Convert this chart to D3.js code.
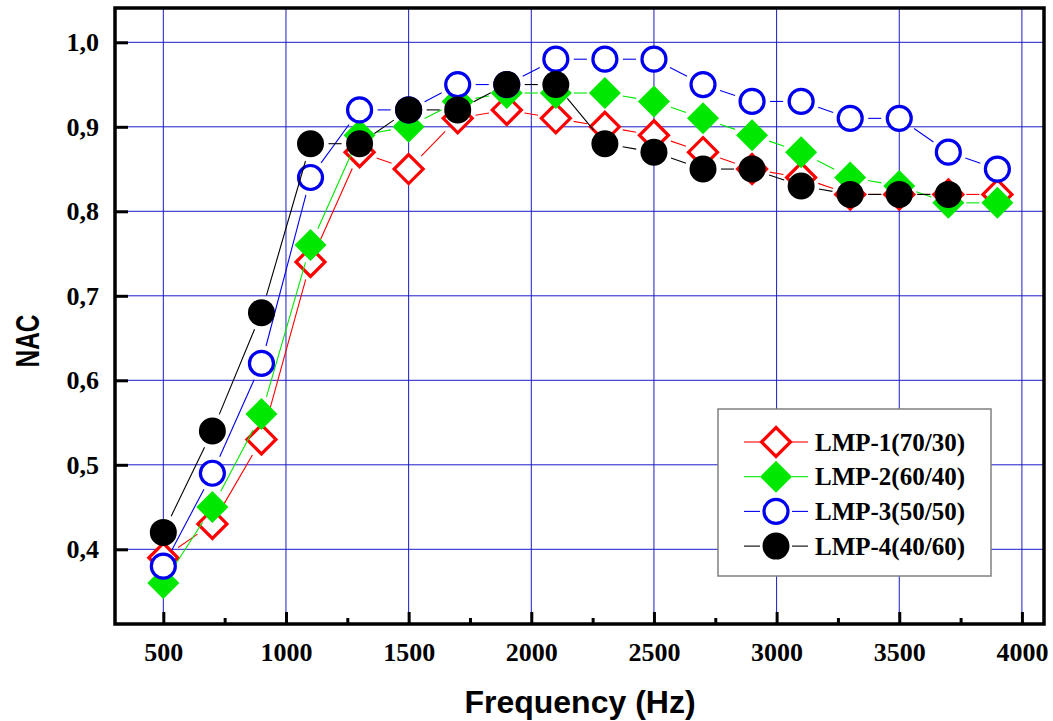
<!DOCTYPE html>
<html>
<head>
<meta charset="utf-8">
<script src="https://cdn.jsdelivr.net/npm/d3@7"></script>
<style>
  body { margin: 0; background: #fff; }
  svg { display: block; }
</style>
</head>
<body>
<script>
var freq = [500, 700, 900, 1100, 1300, 1500, 1700, 1900, 2100, 2300, 2500, 2700, 2900, 3100, 3300, 3500, 3700, 3900];
var lmp1 = [0.39, 0.43, 0.53, 0.74, 0.87, 0.85, 0.91, 0.92, 0.91, 0.90, 0.89, 0.87, 0.85, 0.84, 0.82, 0.82, 0.82, 0.82];
var lmp2 = [0.36, 0.45, 0.56, 0.76, 0.89, 0.90, 0.93, 0.94, 0.94, 0.94, 0.93, 0.91, 0.89, 0.87, 0.84, 0.83, 0.81, 0.81];
var lmp3 = [0.38, 0.49, 0.62, 0.84, 0.92, 0.92, 0.95, 0.95, 0.98, 0.98, 0.98, 0.95, 0.93, 0.93, 0.91, 0.91, 0.87, 0.85];
var lmp4 = [0.42, 0.54, 0.68, 0.88, 0.88, 0.92, 0.92, 0.95, 0.95, 0.88, 0.87, 0.85, 0.85, 0.83, 0.82, 0.82, 0.82];
var names = ["LMP-1(70/30)", "LMP-2(60/40)", "LMP-3(50/50)", "LMP-4(40/60)"];
var xTicks = [500, 1000, 1500, 2000, 2500, 3000, 3500, 4000];
var xMinor = [750, 1250, 1750, 2250, 2750, 3250, 3750];
var yTicks = [0.4, 0.5, 0.6, 0.7, 0.8, 0.9, 1.0];

var series = [
    { name: names[0], values: lmp1, color: "#ff0000", shape: "diamond", filled: false },
    { name: names[1], values: lmp2, color: "#00e800", shape: "diamond", filled: true },
    { name: names[2], values: lmp3, color: "#0000ee", shape: "circle", filled: false },
    { name: names[3], values: lmp4, color: "#000000", shape: "circle", filled: true }
];

var W = 1053, H = 721;
var pLeft = 115, pRight = 1044, pTop = 8, pBottom = 624;

var svg = d3.select('body')
    .append("svg")
    .attr('width', W)
    .attr('height', H);

var x = d3.scaleLinear().domain([303, 4090]).range([pLeft, pRight]);
var y = d3.scaleLinear().domain([0.3116, 1.0406]).range([pBottom, pTop]);

var gridColor = "#1a1ac8";
var serif = "'Liberation Serif', 'Times New Roman', serif";

// grid
svg.append("g").selectAll("line")
    .data(xTicks).enter().append("line")
    .attr("x1", d => x(d)).attr("x2", d => x(d))
    .attr("y1", pTop).attr("y2", pBottom)
    .style("stroke", gridColor).style("stroke-width", 1);

svg.append("g").selectAll("line")
    .data(yTicks).enter().append("line")
    .attr("x1", pLeft).attr("x2", pRight)
    .attr("y1", d => y(d)).attr("y2", d => y(d))
    .style("stroke", gridColor).style("stroke-width", 1);

// axes (ticks pointing inward)
var xAxis = d3.axisBottom(x).tickValues(xTicks).tickSize(-12).tickFormat(d3.format("d")).tickPadding(19);
var gx = svg.append("g").attr("transform", "translate(0," + pBottom + ")").call(xAxis);
gx.select(".domain").remove();
gx.selectAll(".tick line").style("stroke", "#000").style("stroke-width", 3);
gx.selectAll(".tick text")
    .style("font-family", serif)
    .style("font-weight", "bold")
    .style("font-size", "26px")
    .style("fill", "#000");

var xMinorAxis = d3.axisBottom(x).tickValues(xMinor).tickSize(-6).tickFormat("");
var gxm = svg.append("g").attr("transform", "translate(0," + pBottom + ")").call(xMinorAxis);
gxm.select(".domain").remove();
gxm.selectAll(".tick line").style("stroke", "#000").style("stroke-width", 3);

var yAxis = d3.axisLeft(y).tickValues(yTicks).tickSize(-13)
    .tickFormat(d => d3.format(".1f")(d).replace(".", ",")).tickPadding(16);
var gy = svg.append("g").attr("transform", "translate(" + pLeft + ",0)").call(yAxis);
gy.select(".domain").remove();
gy.selectAll(".tick line").style("stroke", "#000").style("stroke-width", 3);
gy.selectAll(".tick text")
    .style("font-family", serif)
    .style("font-weight", "bold")
    .style("font-size", "26px")
    .style("fill", "#000");

// frame
svg.append("rect")
    .attr("x", pLeft).attr("y", pTop)
    .attr("width", pRight - pLeft).attr("height", pBottom - pTop)
    .style("fill", "none").style("stroke", "#000").style("stroke-width", 3.5);

// markers
function drawMarker(g, s, cx, cy) {
    if (s.shape === "diamond") {
        var r = s.filled ? 16 : 14.5;
        g.append("path")
            .attr("d", "M" + cx + "," + (cy - r) + "L" + (cx + r) + "," + cy + "L" + cx + "," + (cy + r) + "L" + (cx - r) + "," + cy + "Z")
            .style("fill", s.filled ? s.color : "#fff")
            .style("stroke", s.color)
            .style("stroke-width", s.filled ? 0 : 3.2);
    } else {
        g.append("circle")
            .attr("cx", cx).attr("cy", cy)
            .attr("r", s.filled ? 13.5 : 12)
            .style("fill", s.filled ? s.color : "#fff")
            .style("stroke", s.color)
            .style("stroke-width", s.filled ? 0 : 3.2);
    }
}

// line with gaps at markers, Origin style
function gapSegment(g, color, x0, y0, x1, y1, gap) {
    var dx = x1 - x0, dy = y1 - y0;
    var len = Math.sqrt(dx * dx + dy * dy);
    if (len <= 2 * gap) return;
    var ux = dx / len, uy = dy / len;
    g.append("line")
        .attr("x1", x0 + ux * gap).attr("y1", y0 + uy * gap)
        .attr("x2", x1 - ux * gap).attr("y2", y1 - uy * gap)
        .style("stroke", color).style("stroke-width", 1.1);
}

series.forEach(function(s) {
    var g = svg.append("g");
    var pts = s.values.map((v, i) => [x(freq[i]), y(v)]);
    for (var i = 0; i < pts.length - 1; i++) {
        gapSegment(g, s.color, pts[i][0], pts[i][1], pts[i + 1][0], pts[i + 1][1], 18);
    }
    pts.forEach(p => drawMarker(g, s, p[0], p[1]));
});

// legend
var lg = svg.append("g");
lg.append("rect")
    .attr("x", 718).attr("y", 409)
    .attr("width", 273).attr("height", 167)
    .style("fill", "#fff").style("stroke", "#808080").style("stroke-width", 1.5);

series.forEach(function(s, i) {
    var cy = 442 + i * 34.7, cx = 776;
    lg.append("line").attr("x1", 744).attr("x2", 760).attr("y1", cy).attr("y2", cy)
        .style("stroke", s.color).style("stroke-width", 1.1);
    lg.append("line").attr("x1", 792).attr("x2", 808).attr("y1", cy).attr("y2", cy)
        .style("stroke", s.color).style("stroke-width", 1.1);
    drawMarker(lg, s, cx, cy);
    lg.append("text")
        .attr("x", 815).attr("y", cy + 8.5)
        .text(s.name)
        .style("font-family", serif)
        .style("font-weight", "bold")
        .style("font-size", "25px");
});

// axis titles
svg.append("text")
    .attr("x", 580).attr("y", 713)
    .attr("text-anchor", "middle")
    .text("Frequency (Hz)")
    .style("font-family", "'Liberation Sans', Arial, sans-serif")
    .style("font-weight", "bold")
    .style("font-size", "32px");

svg.append("text")
    .attr("transform", "translate(39,341) rotate(-90) scale(0.74,1)")
    .attr("text-anchor", "middle")
    .text("NAC")
    .style("font-family", "'Liberation Sans', Arial, sans-serif")
    .style("font-weight", "bold")
    .style("font-size", "33px");
</script>
</body>
</html>
